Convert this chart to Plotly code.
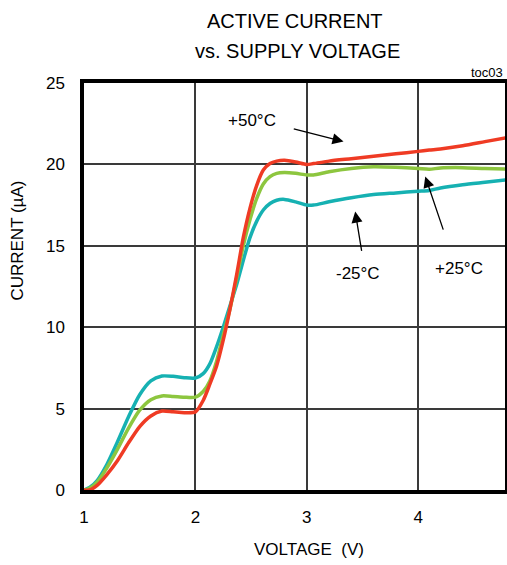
import plotly.graph_objects as go

voltage = [1.0, 1.05, 1.12, 1.2, 1.3, 1.4, 1.5, 1.6, 1.7, 1.8, 1.9, 2.0, 2.07, 2.13, 2.19,
           2.25, 2.31, 2.37, 2.43, 2.49, 2.55, 2.61, 2.67, 2.73, 2.8, 2.9, 3.0, 3.06, 3.2,
           3.4, 3.6, 3.8, 4.0, 4.1, 4.2, 4.4, 4.6, 4.8]

current_m25 = [0, 0.15, 0.6, 1.5, 2.95, 4.5, 5.85, 6.7, 7.0, 6.98, 6.9, 6.88, 7.15, 7.75, 8.8,
               10.0, 11.3, 12.6, 14.1, 15.5, 16.5, 17.2, 17.6, 17.8, 17.85, 17.7, 17.5, 17.5, 17.7,
               17.95, 18.15, 18.25, 18.35, 18.4, 18.55, 18.75, 18.9, 19.05]

current_p25 = [0, 0.1, 0.5, 1.3, 2.5, 3.8, 4.9, 5.55, 5.78, 5.75, 5.7, 5.7, 6.05, 6.7, 7.9,
               9.5, 11.1, 13.0, 15.0, 16.6, 17.9, 18.8, 19.25, 19.45, 19.5, 19.45, 19.35, 19.35, 19.55,
               19.75, 19.85, 19.82, 19.75, 19.7, 19.78, 19.8, 19.75, 19.72]

current_p50 = [0, 0.0, 0.3, 0.9, 1.8, 2.9, 3.9, 4.55, 4.85, 4.8, 4.75, 4.8, 5.5, 6.5, 7.6,
               9.2, 11.1, 13.2, 15.5, 17.3, 18.7, 19.65, 20.05, 20.2, 20.25, 20.15, 20.0, 20.05, 20.2,
               20.35, 20.5, 20.65, 20.8, 20.88, 20.95, 21.15, 21.4, 21.65]

series_names = ["-25°C", "+25°C", "+50°C"]
series_colors = ["#16b1b2", "#8dc63f", "#ef3b24"]

x_ticks = [1, 2, 3, 4]
y_ticks = [0, 5, 10, 15, 20, 25]

FONT = "Liberation Sans, Arial, sans-serif"

fig = go.Figure()
for name, vals, col in zip(series_names, [current_m25, current_p25, current_p50], series_colors):
    fig.add_trace(go.Scatter(x=voltage, y=vals, mode="lines", name=name,
                             line=dict(color=col, width=3.5, shape="spline", smoothing=0.7),
                             showlegend=False))

# label texts and arrows
labels = [
    # text, text_x, text_y, arrow tail (x,y), arrow tip (x,y)
    ("+50°C", 2.51, 22.7, 2.87, 22.2, 3.33, 21.4),
    ("-25°C", 3.46, 13.3, 3.495, 14.6, 3.435, 17.1),
    ("+25°C", 4.37, 13.6, 4.23, 15.9, 4.064, 19.25),
]
for txt, tx, ty, ax, ay, hx, hy in labels:
    fig.add_annotation(x=tx, y=ty, text=txt, showarrow=False,
                       font=dict(size=17, color="black", family=FONT))
    fig.add_annotation(x=hx, y=hy, ax=ax, ay=ay, axref="x", ayref="y", xref="x", yref="y",
                       text="", showarrow=True, arrowhead=2, arrowsize=1.7, arrowwidth=1.3,
                       arrowcolor="black")

# titles (paper coords relative to the plot area)
fig.add_annotation(x=0.501, y=1.152, xref="paper", yref="paper",
                   text="ACTIVE CURRENT", showarrow=False,
                   font=dict(size=20, color="black", family=FONT), yanchor="middle")
fig.add_annotation(x=0.506, y=1.079, xref="paper", yref="paper",
                   text="vs. SUPPLY VOLTAGE", showarrow=False,
                   font=dict(size=20, color="black", family=FONT), yanchor="middle")
fig.add_annotation(x=1.0, y=1.025, xref="paper", yref="paper",
                   text="toc03", showarrow=False, xanchor="right", yanchor="middle",
                   font=dict(size=13, color="black", family=FONT))
fig.add_annotation(x=0.534, y=-0.147, xref="paper", yref="paper",
                   text="VOLTAGE  (V)", showarrow=False, yanchor="middle",
                   font=dict(size=17, color="black", family=FONT))
fig.add_annotation(x=-0.158, y=0.614, xref="paper", yref="paper",
                   text="CURRENT (µA)", showarrow=False, textangle=-90,
                   xanchor="center", yanchor="middle",
                   font=dict(size=17, color="black", family=FONT))

fig.update_layout(
    width=507, height=565,
    margin=dict(l=84, r=2, t=83, b=75, autoexpand=False),
    paper_bgcolor="white", plot_bgcolor="white",
    font=dict(family=FONT, color="black", size=17),
)
fig.update_xaxes(range=[1, 4.78], tickvals=x_ticks, showgrid=True, gridcolor="#3a3a3a",
                 gridwidth=1.5, zeroline=False, showline=True, linecolor="black", linewidth=3.5,
                 mirror=True, ticks="", ticklabelstandoff=9, tickfont=dict(size=17),
                 automargin=False)
fig.update_yaxes(range=[0, 25], tickvals=y_ticks, showgrid=True, gridcolor="#3a3a3a",
                 gridwidth=1.5, zeroline=False, showline=True, linecolor="black", linewidth=3.5,
                 mirror=True, ticks="", ticklabelstandoff=12, tickfont=dict(size=17),
                 automargin=False)

# remove the default page margin so the 507x565 figure fills the window exactly
fig.write_html("out.html",
               config={"displayModeBar": False},
               post_script="document.body.style.margin='0';document.body.style.overflow='hidden';")
